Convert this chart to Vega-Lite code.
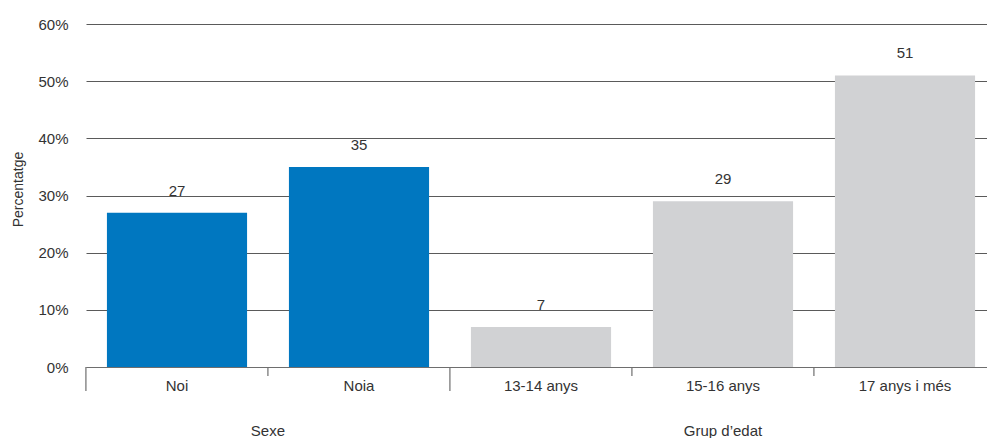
{
  "$schema": "https://vega.github.io/schema/vega-lite/v6.json",
  "width": 901,
  "height": 343,
  "autosize": {"type": "none"},
  "padding": {"left": 86, "top": 24, "right": 0, "bottom": 71},
  "config": {
    "view": {"stroke": null},
    "font": "Liberation Sans",
    "text": {"font": "Liberation Sans", "color": "#333333"}
  },
  "datasets": {
    "bars": [
      {"cat": "Noi", "grup": "Sexe", "pct": 27},
      {"cat": "Noia", "grup": "Sexe", "pct": 35},
      {"cat": "13-14 anys", "grup": "Grup d’edat", "pct": 7},
      {"cat": "15-16 anys", "grup": "Grup d’edat", "pct": 29},
      {"cat": "17 anys i més", "grup": "Grup d’edat", "pct": 51}
    ],
    "ticks": [
      {"cat": "Noi", "kind": "long"},
      {"cat": "Noia", "kind": "short"},
      {"cat": "13-14 anys", "kind": "long"},
      {"cat": "15-16 anys", "kind": "short"},
      {"cat": "17 anys i més", "kind": "short"}
    ],
    "groups": [
      {"grup": "Sexe", "at": "Noia"},
      {"grup": "Grup d’edat", "at": "15-16 anys"}
    ]
  },
  "encoding": {
    "x": {
      "field": "cat",
      "type": "nominal",
      "scale": {
        "domain": ["Noi", "Noia", "13-14 anys", "15-16 anys", "17 anys i més"],
        "range": [0, 910],
        "paddingInner": 0.23,
        "paddingOuter": 0.115
      },
      "axis": {
        "title": null,
        "labelAngle": 0,
        "labelFontSize": 15,
        "labelColor": "#333333",
        "labelFont": "Liberation Sans",
        "labelPadding": 11,
        "ticks": false,
        "tickSize": 0,
        "domainColor": "#6e6e6e",
        "domainWidth": 1.2,
        "grid": false
      }
    }
  },
  "layer": [
    {
      "data": {"name": "bars"},
      "mark": {"type": "bar"},
      "encoding": {
        "y": {
          "field": "pct",
          "type": "quantitative",
          "scale": {"domain": [0, 60], "nice": false},
          "axis": {
            "title": "Percentatge",
            "titleFont": "Liberation Sans",
            "titleFontWeight": "normal",
            "titleFontSize": 14,
            "titleColor": "#333333",
            "titleAngle": -90,
            "titleX": -68,
            "titleY": 165,
            "titleAlign": "center",
            "titleBaseline": "middle",
            "values": [0, 10, 20, 30, 40, 50, 60],
            "labelExpr": "datum.value + '%'",
            "labelFontSize": 15,
            "labelColor": "#333333",
            "labelFont": "Liberation Sans",
            "labelPadding": 18,
            "domain": false,
            "ticks": false,
            "grid": true,
            "gridColor": "#5a5a5a",
            "gridWidth": 1
          }
        },
        "color": {
          "field": "grup",
          "type": "nominal",
          "scale": {"domain": ["Sexe", "Grup d’edat"], "range": ["#0077C0", "#D1D2D4"]},
          "legend": null
        }
      }
    },
    {
      "data": {"name": "bars"},
      "mark": {"type": "text", "baseline": "alphabetic", "dy": -17, "fontSize": 15, "color": "#333333"},
      "encoding": {
        "y": {"field": "pct", "type": "quantitative"},
        "text": {"field": "pct", "type": "quantitative"}
      }
    },
    {
      "data": {"name": "ticks"},
      "transform": [{"filter": "datum.kind == 'long'"}],
      "mark": {"type": "rule", "color": "#6e6e6e", "strokeWidth": 1.2, "y2Offset": 24},
      "encoding": {
        "x": {"field": "cat", "type": "nominal", "bandPosition": -0.15},
        "y": {"datum": 0},
        "y2": {"datum": 0}
      }
    },
    {
      "data": {"name": "ticks"},
      "transform": [{"filter": "datum.kind == 'short'"}],
      "mark": {"type": "rule", "color": "#6e6e6e", "strokeWidth": 1.2, "y2Offset": 9},
      "encoding": {
        "x": {"field": "cat", "type": "nominal", "bandPosition": -0.15},
        "y": {"datum": 0},
        "y2": {"datum": 0}
      }
    },
    {
      "data": {"name": "groups"},
      "transform": [{"filter": "datum.grup == 'Sexe'"}],
      "mark": {"type": "text", "baseline": "top", "dy": 57, "fontSize": 15, "color": "#333333"},
      "encoding": {
        "x": {"field": "at", "type": "nominal", "bandPosition": -0.15},
        "y": {"datum": 0},
        "text": {"field": "grup"}
      }
    },
    {
      "data": {"name": "groups"},
      "transform": [{"filter": "datum.grup != 'Sexe'"}],
      "mark": {"type": "text", "baseline": "top", "dy": 57, "fontSize": 15, "color": "#333333"},
      "encoding": {
        "x": {"field": "at", "type": "nominal", "bandPosition": 0.5},
        "y": {"datum": 0},
        "text": {"field": "grup"}
      }
    }
  ]
}
